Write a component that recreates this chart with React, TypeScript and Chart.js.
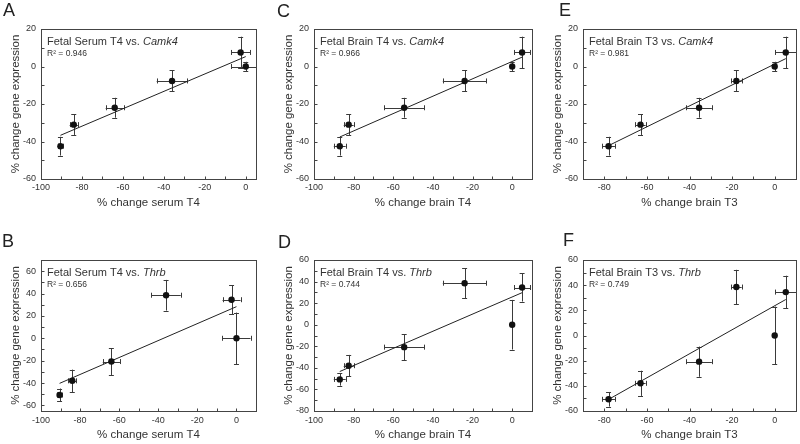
import React, { useEffect, useRef } from "react";
import { Chart, registerables } from "chart.js";
Chart.register(...registerables);

const FONT = '"Liberation Sans", Arial, Helvetica, sans-serif';
const TEXT = "#333";

// ---- data (x = % change hormone, y = % change gene expression) ----
const serumT4 = [-90.5, -84, -64, -36, 0, -2.5];
const serumT4Err = [1.3, 2, 4.4, 7.5, 7.2, 4.6];
const brainT4 = [-87, -82.5, -54.5, -24, 0, 5];
const brainT4Err = [3, 2.5, 10, 11, 0, 4];
const brainT3 = [-78, -63, -35.5, -18, 0, 5.2];
const brainT3Err = [3, 2.4, 6, 2.5, 0, 5];

const camk4 = [-42.5, -31, -22, -7.7, 0, 7.5];
const camk4Err = [5, 5.5, 5.3, 5.6, 2.5, 8.4];
const thrb = [-50.7, -38, -20.8, 38.5, 0, 34.5];
const thrbErr = [5.8, 10, 12, 13.7, 23, 13];

// regression line end points
const fitAx = [-90.5, 0];
const fitAy = [-36.7, 5.3];
const fitCx = [-87, 5];
const fitCy = [-37.6, 5];
const fitEx = [-78, 5.2];
const fitEy = [-42.2, 4.2];
const fitBx = [-90.5, 0];
const fitBy = [-40.3, 28.3];
const fitDx = [-87, 5];
const fitDy = [-43.4, 29.7];
const fitFx = [-78, 5.2];
const fitFy = [-50.8, 28.6];

// tick labels
const xTicks100 = [-100, -80, -60, -40, -20, 0];
const xTicks80 = [-80, -60, -40, -20, 0];
const yTicksCamk4 = [-60, -40, -20, 0, 20];
const yTicksB = [-60, -40, -20, 0, 20, 40, 60];
const yTicksD = [-80, -60, -40, -20, 0, 20, 40, 60];
const yTicksF = [-60, -40, -20, 0, 20, 40, 60];

type Panel = {
  letter: string;
  prefix: string;
  gene: string;
  r2: string;
  xTitle: string;
  x: number[];
  xErr: number[];
  y: number[];
  yErr: number[];
  fitX: number[];
  fitY: number[];
  xMin: number;
  xMax: number;
  yMin: number;
  yMax: number;
  xTicks: number[];
  yTicks: number[];
  canvas: { left: number; top: number; width: number; height: number };
  plot: { left: number; top: number; right: number; bottom: number };
  letterPos: { x: number; y: number };
  titlePadBottom: number;
  tickPad: number;
};

const topCanvas = { top: 0, height: 218 };
const botCanvas = { top: 222, height: 222 };

const panels: Panel[] = [
  {
    letter: "A", prefix: "Fetal Serum T4 vs. ", gene: "Camk4", r2: "R\u00b2 = 0.946", xTitle: "% change serum T4",
    x: serumT4, xErr: serumT4Err, y: camk4, yErr: camk4Err, fitX: fitAx, fitY: fitAy,
    xMin: -100, xMax: 5, yMin: -60, yMax: 20, xTicks: xTicks100, yTicks: yTicksCamk4,
    canvas: { left: 0, top: topCanvas.top, width: 262, height: topCanvas.height },
    plot: { left: 41, top: 29, right: 256, bottom: 179 }, letterPos: { x: 3, y: 16 }, titlePadBottom: 8, tickPad: 3,
  },
  {
    letter: "C", prefix: "Fetal Brain T4 vs. ", gene: "Camk4", r2: "R\u00b2 = 0.966", xTitle: "% change brain T4",
    x: brainT4, xErr: brainT4Err, y: camk4, yErr: camk4Err, fitX: fitCx, fitY: fitCy,
    xMin: -100, xMax: 10, yMin: -60, yMax: 20, xTicks: xTicks100, yTicks: yTicksCamk4,
    canvas: { left: 273, top: topCanvas.top, width: 265, height: topCanvas.height },
    plot: { left: 314, top: 29, right: 532, bottom: 179 }, letterPos: { x: 277, y: 17 }, titlePadBottom: 8, tickPad: 3,
  },
  {
    letter: "E", prefix: "Fetal Brain T3 vs. ", gene: "Camk4", r2: "R\u00b2 = 0.981", xTitle: "% change brain T3",
    x: brainT3, xErr: brainT3Err, y: camk4, yErr: camk4Err, fitX: fitEx, fitY: fitEy,
    xMin: -90, xMax: 10, yMin: -60, yMax: 20, xTicks: xTicks80, yTicks: yTicksCamk4,
    canvas: { left: 542, top: topCanvas.top, width: 258, height: topCanvas.height },
    plot: { left: 583, top: 29, right: 798, bottom: 179 }, letterPos: { x: 559, y: 16 }, titlePadBottom: 8, tickPad: 3,
  },
  {
    letter: "B", prefix: "Fetal Serum T4 vs. ", gene: "Thrb", r2: "R\u00b2 = 0.656", xTitle: "% change serum T4",
    x: serumT4, xErr: serumT4Err, y: thrb, yErr: thrbErr, fitX: fitBx, fitY: fitBy,
    xMin: -100, xMax: 10, yMin: -65, yMax: 70, xTicks: xTicks100, yTicks: yTicksB,
    canvas: { left: 0, top: botCanvas.top, width: 262, height: botCanvas.height },
    plot: { left: 41, top: 260, right: 256, bottom: 411 }, letterPos: { x: 2, y: 247 }, titlePadBottom: 2, tickPad: 4,
  },
  {
    letter: "D", prefix: "Fetal Brain T4 vs. ", gene: "Thrb", r2: "R\u00b2 = 0.744", xTitle: "% change brain T4",
    x: brainT4, xErr: brainT4Err, y: thrb, yErr: thrbErr, fitX: fitDx, fitY: fitDy,
    xMin: -100, xMax: 10, yMin: -80, yMax: 60, xTicks: xTicks100, yTicks: yTicksD,
    canvas: { left: 273, top: botCanvas.top, width: 265, height: botCanvas.height },
    plot: { left: 314, top: 260, right: 532, bottom: 411 }, letterPos: { x: 278, y: 248 }, titlePadBottom: 2, tickPad: 4,
  },
  {
    letter: "F", prefix: "Fetal Brain T3 vs. ", gene: "Thrb", r2: "R\u00b2 = 0.749", xTitle: "% change brain T3",
    x: brainT3, xErr: brainT3Err, y: thrb, yErr: thrbErr, fitX: fitFx, fitY: fitFy,
    xMin: -90, xMax: 10, yMin: -60, yMax: 60, xTicks: xTicks80, yTicks: yTicksF,
    canvas: { left: 542, top: botCanvas.top, width: 258, height: botCanvas.height },
    plot: { left: 583, top: 260, right: 798, bottom: 411 }, letterPos: { x: 563, y: 246 }, titlePadBottom: 2, tickPad: 4,
  },
];

const crisp = (v: number) => Math.round(v) + 0.5;

const decorPlugin = {
  id: "panelDecor",
  beforeDatasetsDraw(chart: any, _args: any, opts: any) {
    const p: Panel = opts.panel;
    const { ctx, chartArea: a, scales } = chart;
    const xs = scales.x;
    const ys = scales.y;
    ctx.save();
    ctx.beginPath();
    ctx.rect(a.left, a.top, a.right - a.left, a.bottom - a.top);
    ctx.clip();
    ctx.strokeStyle = "#3a3a3a";
    ctx.lineWidth = 1;
    const cap = 2.5;
    for (let i = 0; i < p.x.length; i++) {
      const px = xs.getPixelForValue(p.x[i]);
      const py = ys.getPixelForValue(p.y[i]);
      if (p.yErr[i] > 0) {
        const t = ys.getPixelForValue(p.y[i] + p.yErr[i]);
        const b = ys.getPixelForValue(p.y[i] - p.yErr[i]);
        ctx.beginPath();
        ctx.moveTo(crisp(px), t);
        ctx.lineTo(crisp(px), b);
        ctx.moveTo(px - cap, crisp(t));
        ctx.lineTo(px + cap, crisp(t));
        ctx.moveTo(px - cap, crisp(b));
        ctx.lineTo(px + cap, crisp(b));
        ctx.stroke();
      }
      if (p.xErr[i] > 0) {
        const l = xs.getPixelForValue(p.x[i] - p.xErr[i]);
        const r = xs.getPixelForValue(p.x[i] + p.xErr[i]);
        ctx.beginPath();
        ctx.moveTo(l, crisp(py));
        ctx.lineTo(r, crisp(py));
        ctx.moveTo(crisp(l), py - cap);
        ctx.lineTo(crisp(l), py + cap);
        ctx.moveTo(crisp(r), py - cap);
        ctx.lineTo(crisp(r), py + cap);
        ctx.stroke();
      }
    }
    ctx.restore();
  },
  afterDraw(chart: any, _args: any, opts: any) {
    const p: Panel = opts.panel;
    const { ctx, chartArea: a, scales } = chart;
    const xs = scales.x;
    const ys = scales.y;
    ctx.save();
    ctx.strokeStyle = "#444";
    ctx.lineWidth = 1;
    const L = crisp(a.left), R = crisp(a.right), T = crisp(a.top), B = crisp(a.bottom);
    ctx.strokeRect(L, T, R - L, B - T);
    // inward tick marks every 10 units
    ctx.beginPath();
    for (let v = Math.ceil(p.xMin / 10) * 10; v <= p.xMax; v += 10) {
      const px = crisp(xs.getPixelForValue(v));
      ctx.moveTo(px, B);
      ctx.lineTo(px, B - 3);
    }
    for (let v = Math.ceil(p.yMin / 10) * 10; v <= p.yMax; v += 10) {
      const py = crisp(ys.getPixelForValue(v));
      ctx.moveTo(L, py);
      ctx.lineTo(L + 3, py);
    }
    ctx.stroke();
    // inner title
    ctx.fillStyle = TEXT;
    ctx.textBaseline = "alphabetic";
    ctx.textAlign = "left";
    const tx = a.left + 6;
    ctx.font = `11px ${FONT}`;
    ctx.fillText(p.prefix, tx, a.top + 16);
    const w = ctx.measureText(p.prefix).width;
    ctx.font = `italic 11px ${FONT}`;
    ctx.fillText(p.gene, tx + w, a.top + 16);
    ctx.font = `8.5px ${FONT}`;
    ctx.fillText(p.r2, tx, a.top + 27);
    // panel letter
    ctx.font = `18px ${FONT}`;
    ctx.fillStyle = "#222";
    ctx.fillText(p.letter, p.letterPos.x - p.canvas.left, p.letterPos.y - p.canvas.top);
    ctx.restore();
  },
};

function PanelChart({ p }: { p: Panel }) {
  const ref = useRef<HTMLCanvasElement | null>(null);
  useEffect(() => {
    if (!ref.current) return;
    const c = p.canvas;
    const yW = p.plot.left - c.left;
    const xH = c.top + c.height - p.plot.bottom;
    const chart = new Chart(ref.current, {
      type: "scatter",
      data: {
        datasets: [
          {
            type: "line",
            data: p.fitX.map((v, i) => ({ x: v, y: p.fitY[i] })),
            borderColor: "#222",
            borderWidth: 1,
            pointRadius: 0,
            fill: false,
            order: 2,
          } as any,
          {
            type: "scatter",
            data: p.x.map((v, i) => ({ x: v, y: p.y[i] })),
            pointRadius: 3.2,
            backgroundColor: "#111",
            borderColor: "#111",
            borderWidth: 0,
            order: 1,
          } as any,
        ],
      },
      options: {
        responsive: false,
        animation: false,
        devicePixelRatio: 1,
        events: [],
        layout: {
          padding: {
            left: 0,
            top: p.plot.top - c.top,
            right: c.left + c.width - p.plot.right,
            bottom: 0,
          },
        },
        plugins: {
          legend: { display: false },
          tooltip: { enabled: false },
          panelDecor: { panel: p },
        } as any,
        scales: {
          x: {
            type: "linear",
            position: "bottom",
            min: p.xMin,
            max: p.xMax,
            grid: { display: false, drawTicks: false },
            border: { display: false },
            afterBuildTicks: (s: any) => {
              s.ticks = p.xTicks.map((v) => ({ value: v }));
            },
            afterFit: (s: any) => {
              s.height = xH;
            },
            ticks: { padding: p.tickPad, autoSkip: false, maxRotation: 0, color: TEXT, font: { size: 9, family: FONT } },
            title: {
              display: true,
              text: p.xTitle,
              color: TEXT,
              font: { size: 11.5, family: FONT },
              padding: { top: 0, bottom: p.titlePadBottom },
            },
          },
          y: {
            type: "linear",
            position: "left",
            min: p.yMin,
            max: p.yMax,
            grid: { display: false, drawTicks: false },
            border: { display: false },
            afterBuildTicks: (s: any) => {
              s.ticks = p.yTicks.map((v) => ({ value: v }));
            },
            afterFit: (s: any) => {
              s.width = yW;
            },
            ticks: { padding: 5, autoSkip: false, color: TEXT, font: { size: 9, family: FONT } },
            title: {
              display: true,
              text: "% change gene expression",
              color: TEXT,
              font: { size: 11.5, family: FONT },
              padding: { top: 8.8, bottom: 0 },
            },
          },
        },
      } as any,
      plugins: [decorPlugin as any],
    });
    return () => chart.destroy();
  }, [p]);
  const c = p.canvas;
  return (
    <canvas
      ref={ref}
      width={c.width}
      height={c.height}
      style={{ position: "absolute", left: c.left, top: c.top, width: c.width, height: c.height }}
    />
  );
}

export default function App() {
  return (
    <div style={{ position: "absolute", left: 0, top: 0, width: 800, height: 444, background: "#fff", overflow: "hidden" }}>
      {panels.map((p) => (
        <PanelChart key={p.letter} p={p} />
      ))}
    </div>
  );
}
